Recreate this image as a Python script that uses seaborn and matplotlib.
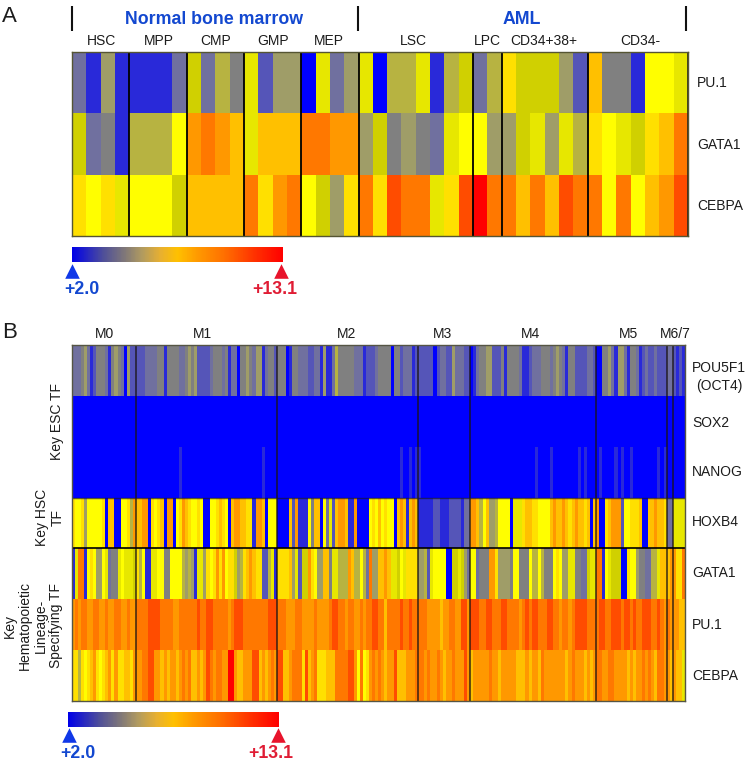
import numpy as np
import pandas as pd
import matplotlib
matplotlib.use("Agg")
import matplotlib.pyplot as plt
from matplotlib.colors import LinearSegmentedColormap
import seaborn as sns

# ---------- data: one code per sample ----------
CODES = "0123456789abcdef"
# approximate expression value (scale +2.0 .. +13.1) for each colour code
CODE_VALUES = [2.0, 2.8, 3.55, 4.2, 4.8, 5.2, 5.66, 6.2, 6.66, 6.88, 7.1, 7.55, 8.65, 10.0, 11.4, 13.1]
CODE_COLORS = ["#0000ff", "#2a2ad8", "#5555b8", "#70709f", "#808080", "#a09e68", "#b8b440", "#d0d000",
               "#e8e800", "#ffff00", "#ffe000", "#ffc000", "#ff9800", "#ff7800", "#ff4c00", "#ff0000"]
VMIN, VMAX = 2.0, 13.1

A_GROUPS = ["HSC", "MPP", "CMP", "GMP", "MEP", "LSC", "LPC", "CD34+38+", "CD34-"]
A_GENES = ["PU.1", "GATA1", "CEBPA"]
A_PU1 = ["3151", "1113", "7364", "8255", "0835", "80668167", "36", "a77752", "b441998"]
A_GATA1 = ["7341", "6669", "cdcb", "8bbb", "ddcc", "57454389", "95", "578586", "a987abd"]
A_CEBPA = ["a9a8", "9997", "bbbb", "dacd", "975a", "daedd8ae", "fd", "dbdbed", "d9d9bce"]

B_GROUP_LABELS = ["M0", "M1", "M2", "M3", "M4", "M5", "M6/7"]
B_GENES = ["POU5F1", "SOX2", "NANOG", "HOXB4", "GATA1", "PU.1", "CEBPA"]
B_POU5F1 = ["33345 31244 43145 43052 2",
            "22233 33441 44443 34545 22223 44434 13304 45435 51344 2",
            "44401 44333 22331 51136 44444 33312 22344 44044 23331 2",
            "22222 02332 25333 22",
            "01344 55222 41444 43112 33344 43454 31442 22233 2",
            "00445 31553 14431 23223 222",
            "33", "2121"]
B_SOX2 = ["0" * 21, "0" * 46, "0" * 46, "0" * 17, "0" * 41, "0" * 23, "00", "0000"]
B_NANOG = ["00000 00000 00000 00000 0",
           "00000 00000 00001 00000 00000 00000 00000 00000 01000 0",
           "00000 00000 00000 00000 00000 00000 00000 00000 10010 1",
           "10000 00000 00000 00",
           "00000 00000 00000 00000 01000 01000 00000 10100 0",
           "01000 01010 01000 00000 101",
           "00", "0000"]
B_HOXB4 = ["a99a5 99999 a0bb0 099a6 c",
           "bbcc0 a9ab0 cc09a cba99 a9009 9aba9 0bccb baa1c cb099 9",
           "0000b 2c111 94bb0 9382b ccb11 c0000 9a9b9 a990b cb1bc b",
           "11111 22111 22221 33",
           "ccb69 b5569 99908 88abb aa999 9bcbb cbabc bbab0 b",
           "c00ab ccc29 9aaab 00bbc bba",
           "33", "8888"]
B_GATA1 = ["18dd1 9a955 98344 89888 7",
           "a6911 88994 49999 65651 885a9 acac9 aa756 abcba a2268 1",
           "aaaab 58277 ca955 bb488 666cb 66963 d55bb cb887 98aaa a",
           "55628 99990 07787 53",
           "99344 4cca5 55549 94449 66964 449a9 55884 43378 8",
           "dd198 77700 a9954 43366 8bb",
           "bc", "caad"]
B_PU1 = ["cdcdd ccddc cdccd dccdc c",
         "ddddeeeed dddcc dddddd eddee ddddd cdeee dddddddd eee",
         "dddcc cddcc ccdcc ccdee ddcdd ccdcd deedd bdddd edded d",
         "dddcc ccbcc ddcce ec",
         "eeedd eeddd eeddd dcded eeddd eeddc ddcde eeedd d",
         "deedd eeede ededd eeedd edc",
         "dc", "ccbb"]
B_CEBPA = ["aa6a9 abca9 abcac aabba c",
           "ccdde eccbc bccbc dcdbb cbced cddcc ffcbb cccee bcbcd c",
           "eebbc dddae bcdaa abbbd dddee c9d9a cdcdc bcceb bbccc d",
           "ddcdc cdcbc cdccc ec",
           "bcccc cdccb ccccc bbbcb ccbdc ccccc cbcdc ccbcb c",
           "ddccd dcccc bcbcc dcdcb ddc",
           "cb", "cbb8"]

# colour key as printed in the figure (blended, almost no pure yellow)
KEY_STOPS = [0, .15, .25, .33, .42, .5, .6, .72, .87, 1]
KEY_COLORS = ["#0000e8", "#505098", "#807878", "#b09a60", "#e8b030", "#ffc000", "#ff9800", "#ff7000", "#ff3000", "#ff0000"]


def clean(parts):
    return "".join(parts).replace(" ", "")


def row_values(parts):
    return [CODE_VALUES[CODES.index(ch)] for ch in clean(parts)]


def px_axes(fig, left, top, right, bottom):
    W, H = fig.get_size_inches() * fig.dpi
    return fig.add_axes([left / W, 1 - bottom / H, (right - left) / W, (bottom - top) / H])


sns.set_theme(style="white")
plt.rcParams["font.family"] = ["Liberation Sans", "DejaVu Sans"]

stops = [(v - VMIN) / (VMAX - VMIN) for v in CODE_VALUES]
cmap = LinearSegmentedColormap.from_list("tf", list(zip(stops, CODE_COLORS)), N=512)
key_cmap = LinearSegmentedColormap.from_list("key", list(zip(KEY_STOPS, KEY_COLORS)), N=256)

fig = plt.figure(figsize=(7.45, 7.61), dpi=100, facecolor="white")

# ---------- panel A ----------
df_a = pd.DataFrame([row_values(A_PU1), row_values(A_GATA1), row_values(A_CEBPA)], index=A_GENES)
ax_a = px_axes(fig, 72, 52, 688, 236)
cax_a = px_axes(fig, 72, 247, 283, 262)
sns.heatmap(df_a, ax=ax_a, cmap=cmap, vmin=VMIN, vmax=VMAX, xticklabels=False, yticklabels=False,
            cbar_ax=cax_a, cbar_kws={"orientation": "horizontal", "ticks": []})
bounds_a = np.cumsum([len(clean(p)) for p in A_PU1])
for b in bounds_a[:-1]:
    ax_a.axvline(b, color="black", lw=1.3)
ax_a.axvline(0, color="#222222", lw=1.2)
ax_a.axvline(bounds_a[-1], color="#222222", lw=1.2)
for s in ax_a.spines.values():
    s.set_visible(True); s.set_color("#555533"); s.set_linewidth(1.0)

# ---------- panel B ----------
rows_b = [B_POU5F1, B_SOX2, B_NANOG, B_HOXB4, B_GATA1, B_PU1, B_CEBPA]
df_b = pd.DataFrame([row_values(r) for r in rows_b], index=B_GENES)
ax_b = px_axes(fig, 71.5, 345, 685, 701)
cax_b = px_axes(fig, 68, 712, 279, 727)
sns.heatmap(df_b, ax=ax_b, cmap=cmap, vmin=VMIN, vmax=VMAX, xticklabels=False, yticklabels=False,
            cbar_ax=cax_b, cbar_kws={"orientation": "horizontal", "ticks": []})
bounds_b = np.cumsum([len(clean(p)) for p in B_POU5F1])
for b in bounds_b[:-1]:
    ax_b.axvline(b, color="#1a1414", lw=1.2, alpha=0.8)
ax_b.axhline(3, color="#15153a", lw=1.0, alpha=0.7)
ax_b.axhline(4, color="black", lw=1.2)
for s in ax_b.spines.values():
    s.set_visible(True); s.set_color("#555544"); s.set_linewidth(1.0)

for cax in (cax_a, cax_b):
    for s in cax.spines.values():
        s.set_visible(False)
    cax.set_xticks([]); cax.set_yticks([])
    for coll in cax.collections:
        coll.set_cmap(key_cmap)

# ---------- overlay in pixels for labels ----------
ov = fig.add_axes([0, 0, 1, 1], facecolor="none")
ov.set_xlim(0, 745); ov.set_ylim(761, 0); ov.axis("off")
BLUE, RED, INK = "#1348d0", "#e01c34", "#1c1c1c"


def T(x, y, s, size=10, color=INK, weight="normal", ha="center", rot=0):
    ov.text(x, y, s, fontsize=size, color=color, fontweight=weight, ha=ha, va="center",
            rotation=rot, multialignment="center", linespacing=1.15)


T(2, 17, "A", size=16, ha="left")
T(2, 332, "B", size=16, ha="left")
T(214, 19, "Normal bone marrow", size=12.8, color=BLUE, weight="bold")
T(522, 19, "AML", size=12.8, color=BLUE, weight="bold")
for xp in (71.5, 358, 685.5):
    ov.plot([xp, xp], [6, 31], color="#111111", lw=1.5, solid_capstyle="butt")

a_label_x = [102, 159, 216, 273, 329, 413, 487, 544, 640]
for xp, name in zip(a_label_x, A_GROUPS):
    T(xp, 41, name)
for yp, name in zip([83, 145, 206], A_GENES):
    T(697, yp, name, ha="left")

b_label_x = [104, 202, 347, 442, 530, 628, 675]
for xp, name in zip(b_label_x, B_GROUP_LABELS):
    T(xp, 334, name)
T(692, 368, "POU5F1", ha="left")
T(696, 386, "(OCT4)", ha="left")
for yp, name in zip([423, 472, 522, 573, 625, 676], B_GENES[1:]):
    T(692, yp, name, ha="left")

T(57, 421, "Key ESC TF", rot=90)
T(50, 517, "Key HSC\nTF", rot=90)
T(33, 626, "Key\nHematopoietic\nLineage-\nSpecifying TF", rot=90)

# colour-key markers and limits
for x_lo, x_hi, y_tri, y_txt, lab_lo, lab_hi in [(72, 281, 271, 289, 82, 275), (69, 278, 735, 754, 78, 271)]:
    ov.scatter([x_lo], [y_tri], marker="^", s=110, color="#1038e8", linewidths=0)
    ov.scatter([x_hi], [y_tri], marker="^", s=110, color="#e8142c", linewidths=0)
    T(lab_lo, y_txt, "+2.0", size=12.8, color=BLUE, weight="bold")
    T(lab_hi, y_txt, "+13.1", size=12.8, color=RED, weight="bold")

fig.savefig("out.png", dpi=100, facecolor="white")
